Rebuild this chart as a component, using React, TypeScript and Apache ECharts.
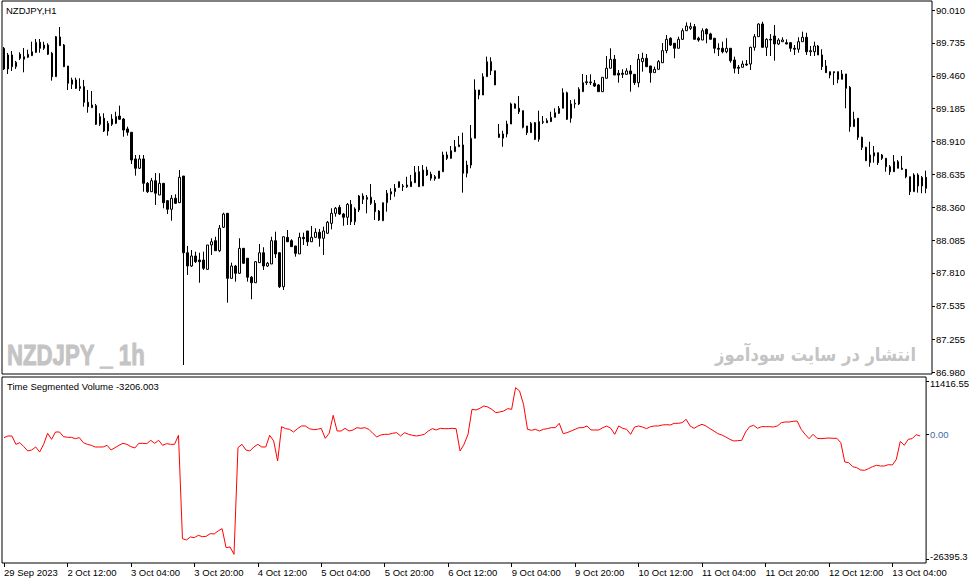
import React, { useEffect, useRef } from 'react';
import * as echarts from 'echarts';

// right scale of the price window
const PRICE_TICKS = [90.01, 89.735, 89.46, 89.185, 88.91, 88.635, 88.36, 88.085, 87.81, 87.535, 87.255, 86.98];
// right scale of the indicator window
const TSV_TICKS = [11416.55, 0, -26395.3];
const TSV_TICK_TEXT = ['11416.55', '0.00', '-26395.3'];
// time labels, one every 16 bars
const TIME_TICKS = [
  '29 Sep 2023', '2 Oct 12:00', '3 Oct 04:00', '3 Oct 20:00', '4 Oct 12:00', '5 Oct 04:00', '5 Oct 20:00',
  '6 Oct 12:00', '9 Oct 04:00', '9 Oct 20:00', '10 Oct 12:00', '11 Oct 04:00', '11 Oct 20:00', '12 Oct 12:00',
  '13 Oct 04:00',
];

// NZDJPY H1 bars
const OPEN = [
  89.690, 89.517, 89.634, 89.536, 89.640, 89.598, 89.615, 89.628, 89.656, 89.740,
  89.690, 89.717, 89.648, 89.452, 89.784, 89.717, 89.542, 89.389, 89.425, 89.369,
  89.369, 89.238, 89.193, 89.210, 89.054, 89.104, 88.998, 89.054, 89.062, 89.123,
  89.098, 89.015, 88.987, 88.764, 88.686, 88.764, 88.560, 88.490, 88.582, 88.462,
  88.560, 88.415, 88.343, 88.435, 88.398, 88.621, 87.979, 87.868, 87.952, 87.918,
  87.918, 87.840, 88.044, 88.080, 87.996, 88.192, 88.309, 87.765, 87.868, 87.807,
  88.016, 87.933, 87.774, 87.728, 87.896, 87.979, 87.868, 87.885, 88.080, 87.979,
  87.695, 88.108, 88.080, 88.036, 87.969, 88.108, 88.161, 88.071, 88.108, 88.150,
  88.100, 88.142, 88.225, 88.309, 88.359, 88.303, 88.276, 88.384, 88.239, 88.337,
  88.454, 88.426, 88.443, 88.393, 88.328, 88.247, 88.398, 88.471, 88.490, 88.527,
  88.538, 88.546, 88.532, 88.565, 88.657, 88.538, 88.671, 88.636, 88.615, 88.602,
  88.657, 88.797, 88.769, 88.825, 88.866, 88.881, 88.644, 88.713, 88.937, 89.341,
  89.299, 89.452, 89.578, 89.502, 88.973, 88.937, 88.973, 89.056, 89.224, 89.188,
  89.168, 89.040, 88.984, 89.067, 88.928, 89.076, 89.084, 89.076, 89.112, 89.146,
  89.188, 89.318, 89.104, 89.224, 89.224, 89.327, 89.402, 89.402, 89.397, 89.383,
  89.327, 89.439, 89.523, 89.598, 89.481, 89.481, 89.472, 89.500, 89.472, 89.402,
  89.578, 89.606, 89.542, 89.486, 89.514, 89.569, 89.670, 89.774, 89.732, 89.690,
  89.765, 89.837, 89.857, 89.871, 89.774, 89.759, 89.849, 89.810, 89.774, 89.690,
  89.690, 89.661, 89.690, 89.592, 89.531, 89.531, 89.558, 89.558, 89.698, 89.787,
  89.893, 89.698, 89.765, 89.793, 89.726, 89.745, 89.737, 89.737, 89.690, 89.682,
  89.745, 89.782, 89.661, 89.661, 89.709, 89.634, 89.542, 89.494, 89.494, 89.494,
  89.430, 89.475, 89.363, 89.034, 89.104, 88.945, 88.861, 88.733, 88.789, 88.816,
  88.797, 88.769, 88.699, 88.657, 88.741, 88.686, 88.677, 88.615, 88.490, 88.630,
  88.538, 88.610,
];
const HIGH = [
  89.701, 89.651, 89.667, 89.584, 89.656, 89.692, 89.678, 89.745, 89.768, 89.768,
  89.745, 89.732, 89.659, 89.793, 89.868, 89.726, 89.542, 89.444, 89.444, 89.439,
  89.425, 89.341, 89.333, 89.224, 89.146, 89.146, 89.082, 89.138, 89.159, 89.210,
  89.107, 89.034, 88.989, 88.797, 88.797, 88.797, 88.571, 88.605, 88.646, 88.644,
  88.563, 88.420, 88.462, 88.468, 88.671, 88.621, 88.036, 88.002, 87.988, 87.979,
  87.988, 88.044, 88.100, 88.113, 88.211, 88.314, 88.312, 87.896, 87.877, 88.100,
  88.019, 87.935, 87.784, 87.910, 88.052, 88.025, 87.902, 88.113, 88.155, 87.985,
  88.113, 88.169, 88.092, 88.036, 88.147, 88.147, 88.161, 88.203, 88.184, 88.178,
  88.197, 88.245, 88.351, 88.362, 88.379, 88.312, 88.395, 88.420, 88.359, 88.462,
  88.477, 88.462, 88.554, 88.420, 88.337, 88.398, 88.504, 88.518, 88.554, 88.574,
  88.554, 88.615, 88.630, 88.705, 88.705, 88.713, 88.699, 88.657, 88.630, 88.663,
  88.825, 88.825, 88.872, 88.923, 88.956, 88.984, 88.749, 89.048, 89.430, 89.341,
  89.481, 89.620, 89.615, 89.502, 89.056, 89.000, 89.084, 89.235, 89.230, 89.291,
  89.168, 89.040, 89.073, 89.073, 89.168, 89.123, 89.104, 89.159, 89.188, 89.207,
  89.355, 89.327, 89.257, 89.263, 89.364, 89.475, 89.466, 89.472, 89.425, 89.391,
  89.447, 89.625, 89.690, 89.634, 89.508, 89.514, 89.523, 89.550, 89.475, 89.642,
  89.653, 89.642, 89.542, 89.536, 89.592, 89.734, 89.801, 89.782, 89.734, 89.787,
  89.857, 89.907, 89.904, 89.893, 89.787, 89.857, 89.857, 89.820, 89.776, 89.732,
  89.745, 89.774, 89.692, 89.620, 89.550, 89.586, 89.592, 89.703, 89.809, 89.899,
  89.912, 89.774, 89.809, 89.885, 89.774, 89.782, 89.765, 89.743, 89.717, 89.782,
  89.829, 89.820, 89.709, 89.745, 89.717, 89.682, 89.592, 89.494, 89.494, 89.494,
  89.508, 89.475, 89.374, 89.159, 89.107, 88.950, 88.866, 88.908, 88.872, 88.816,
  88.805, 88.772, 88.713, 88.797, 88.755, 88.789, 88.680, 88.615, 88.644, 88.644,
  88.621, 88.666,
];
const LOW = [
  89.508, 89.475, 89.500, 89.517, 89.592, 89.489, 89.609, 89.625, 89.651, 89.653,
  89.676, 89.634, 89.419, 89.450, 89.709, 89.533, 89.341, 89.349, 89.349, 89.333,
  89.201, 89.151, 89.190, 89.048, 89.040, 88.989, 88.959, 89.040, 89.056, 89.090,
  88.950, 88.959, 88.722, 88.624, 88.680, 88.490, 88.479, 88.487, 88.379, 88.462,
  88.351, 88.303, 88.247, 88.387, 88.395, 87.040, 87.793, 87.860, 87.893, 87.728,
  87.835, 87.835, 87.960, 87.994, 87.985, 88.186, 87.561, 87.763, 87.737, 87.801,
  87.885, 87.737, 87.590, 87.726, 87.893, 87.835, 87.860, 87.885, 87.935, 87.684,
  87.667, 88.069, 88.027, 87.946, 87.969, 88.044, 88.036, 88.069, 88.102, 88.030,
  87.960, 88.136, 88.175, 88.281, 88.295, 88.205, 88.211, 88.211, 88.211, 88.320,
  88.387, 88.309, 88.379, 88.253, 88.245, 88.245, 88.323, 88.420, 88.448, 88.521,
  88.496, 88.521, 88.529, 88.563, 88.529, 88.538, 88.621, 88.582, 88.582, 88.599,
  88.655, 88.755, 88.764, 88.822, 88.866, 88.482, 88.610, 88.686, 88.937, 89.263,
  89.299, 89.452, 89.466, 89.383, 88.939, 88.866, 88.945, 89.056, 89.188, 89.140,
  89.020, 88.964, 88.981, 88.923, 88.908, 89.056, 89.065, 89.073, 89.112, 89.140,
  89.188, 89.090, 89.067, 89.188, 89.215, 89.324, 89.383, 89.383, 89.366, 89.327,
  89.324, 89.439, 89.523, 89.466, 89.402, 89.441, 89.472, 89.327, 89.383, 89.364,
  89.494, 89.533, 89.402, 89.486, 89.514, 89.567, 89.648, 89.709, 89.606, 89.690,
  89.759, 89.835, 89.843, 89.765, 89.745, 89.759, 89.732, 89.765, 89.648, 89.625,
  89.648, 89.648, 89.569, 89.481, 89.475, 89.531, 89.542, 89.508, 89.670, 89.787,
  89.698, 89.625, 89.625, 89.586, 89.717, 89.743, 89.723, 89.661, 89.634, 89.653,
  89.745, 89.634, 89.625, 89.625, 89.634, 89.508, 89.483, 89.439, 89.383, 89.397,
  89.430, 89.188, 88.992, 89.034, 88.923, 88.839, 88.749, 88.699, 88.733, 88.713,
  88.755, 88.657, 88.630, 88.655, 88.686, 88.671, 88.602, 88.462, 88.490, 88.482,
  88.477, 88.477,
];
const CLOSE = [
  89.517, 89.634, 89.536, 89.573, 89.606, 89.620, 89.640, 89.661, 89.740, 89.690,
  89.717, 89.640, 89.452, 89.787, 89.712, 89.536, 89.397, 89.425, 89.355, 89.355,
  89.238, 89.201, 89.215, 89.054, 89.118, 88.998, 89.062, 89.098, 89.118, 89.096,
  89.006, 88.987, 88.755, 88.686, 88.764, 88.560, 88.490, 88.582, 88.477, 88.560,
  88.398, 88.343, 88.435, 88.393, 88.610, 87.979, 87.868, 87.952, 87.904, 87.904,
  87.849, 88.044, 88.071, 87.996, 88.184, 88.303, 87.765, 87.868, 87.807, 88.016,
  87.891, 87.774, 87.728, 87.904, 87.979, 87.868, 87.891, 88.080, 87.969, 87.695,
  88.113, 88.071, 88.030, 87.974, 88.108, 88.097, 88.071, 88.108, 88.150, 88.100,
  88.161, 88.234, 88.309, 88.351, 88.303, 88.276, 88.384, 88.239, 88.345, 88.454,
  88.426, 88.443, 88.393, 88.323, 88.253, 88.398, 88.477, 88.490, 88.518, 88.574,
  88.532, 88.532, 88.574, 88.652, 88.532, 88.671, 88.630, 88.602, 88.599, 88.663,
  88.797, 88.769, 88.833, 88.866, 88.881, 88.644, 88.713, 88.937, 89.341, 89.299,
  89.452, 89.578, 89.502, 89.383, 88.945, 88.973, 89.056, 89.224, 89.188, 89.159,
  89.029, 88.984, 89.062, 88.928, 89.076, 89.071, 89.067, 89.112, 89.151, 89.188,
  89.318, 89.096, 89.224, 89.230, 89.347, 89.402, 89.410, 89.408, 89.374, 89.327,
  89.447, 89.523, 89.598, 89.466, 89.466, 89.472, 89.500, 89.475, 89.402, 89.598,
  89.606, 89.536, 89.486, 89.514, 89.578, 89.670, 89.765, 89.717, 89.690, 89.765,
  89.837, 89.876, 89.871, 89.765, 89.759, 89.837, 89.810, 89.765, 89.690, 89.682,
  89.661, 89.690, 89.586, 89.523, 89.523, 89.558, 89.550, 89.698, 89.787, 89.893,
  89.698, 89.765, 89.759, 89.726, 89.759, 89.759, 89.726, 89.690, 89.682, 89.745,
  89.782, 89.661, 89.670, 89.709, 89.634, 89.536, 89.486, 89.466, 89.486, 89.430,
  89.475, 89.355, 89.034, 89.096, 88.945, 88.861, 88.749, 88.797, 88.816, 88.733,
  88.769, 88.699, 88.657, 88.741, 88.686, 88.677, 88.615, 88.490, 88.630, 88.538,
  88.610, 88.518,
];
// Time Segmented Volume, one value per bar
const TSV = [
  -620, -266, -266, -2035, -1682, -2531, -3452, -3239, -2602, -3664,
  -2035, 301, -973, 584, 584, -407, -549, -549, -832, -620,
  -1682, -2035, -2248, -2602, -2602, -2602, -2248, -3239, -2744, -2248,
  -1823, -2035, -2531, -2814, -1823, -1823, -1894, -1186, -1823, -1186,
  -2248, -1894, -2035, -2035, -124, -22072, -22355, -21718, -21860, -21364,
  -21647, -21576, -21010, -21081, -20444, -19948, -23984, -23842, -25400, -2744,
  -2035, -3239, -3452, -2602, -2035, -2602, -2602, -124, -1328, -5576,
  1717, 1292, 1151, 584, 1292, 1859, 1859, 1292, 1080, 1151,
  1363, -761, 301, 4124, 797, 797, 1363, 797, 1009, 1504,
  1363, 1504, 1151, 301, -478, -53, 89, 89, 301, 442,
  -266, 442, 89, -124, -266, -124, 89, 797, 1292, 1009,
  1363, 1292, 1292, 1363, 1292, -3452, -2035, 89, 5399, 5257,
  5611, 6107, 5894, 5399, 4691, 4832, 5045, 5540, 5399, 10000,
  9293, 6460, 1151, 938, 1151, 797, 1151, 1292, 1504, 1504,
  2425, 230, 442, 797, 1151, 1504, 1504, 1859, 1009, 1009,
  1009, 1504, 1859, 1363, 89, 1859, 1363, 1151, 89, 1646,
  1859, 1646, 1292, 1717, 1859, 1859, 2071, 2142, 2071, 2425,
  2425, 2566, 3275, 1859, 1363, 1859, 2213, 1859, 1292, 797,
  230, -53, -478, -973, -1328, -1257, -1186, 584, 1717, 2000,
  1363, 1717, 1717, 1717, 1646, 1859, 2566, 2708, 2708, 2850,
  2921, 1151, 89, -832, 89, -761, -832, -761, -690, -761,
  -761, -1682, -5788, -5930, -6779, -6992, -7487, -7558, -7204, -6779,
  -6496, -6638, -6638, -6354, -6425, -5221, -1398, -2248, -973, -832,
  18, -266,
];

const MONTHS = ['Jan', 'Feb', 'Mar', 'Apr', 'May', 'Jun', 'Jul', 'Aug', 'Sep', 'Oct', 'Nov', 'Dec'];
const FONT = '"Liberation Sans", Arial, sans-serif';

// hourly bar times, weekends skipped, plus one empty slot on the right
const buildCategories = () => {
  const cats: string[] = [];
  let t = Date.UTC(2023, 8, 29, 20);
  while (cats.length < OPEN.length) {
    const d = new Date(t);
    const wd = d.getUTCDay();
    if (wd !== 0 && wd !== 6) {
      const hh = String(d.getUTCHours()).padStart(2, '0');
      cats.push(`${d.getUTCDate()} ${MONTHS[d.getUTCMonth()]} ${hh}:00`);
    }
    t += 3600000;
  }
  cats.push('');
  return cats;
};

const App = () => {
  const chartRef = useRef<HTMLDivElement>(null);

  useEffect(() => {
    const myChart = echarts.init(chartRef.current, null, { renderer: 'svg' });
    const cats = buildCategories();
    const candles = OPEN.map((o, i) => [o, CLOSE[i], LOW[i], HIGH[i]]);

    const labelBase = { color: '#000', fontSize: 9.5, fontFamily: FONT };

    const option = {
      animation: false,
      backgroundColor: '#ffffff',
      grid: [
        { left: 2, top: 1, width: 930, height: 373, show: true, borderColor: '#000', borderWidth: 1 },
        { left: 2, top: 377, width: 930, height: 186, show: true, borderColor: '#000', borderWidth: 1 },
      ],
      xAxis: [
        {
          type: 'category', gridIndex: 0, data: cats, boundaryGap: true, position: 'bottom',
          axisLine: { show: false, onZero: false }, axisTick: { show: false }, axisLabel: { show: false },
          splitLine: { show: false },
        },
        {
          type: 'category', gridIndex: 1, data: cats, boundaryGap: true, position: 'bottom',
          axisLine: { show: false, onZero: false },
          axisTick: { show: true, alignWithLabel: true, interval: 15, length: 4, lineStyle: { color: '#000', width: 1 } },
          axisLabel: {
            ...labelBase,
            interval: 15,
            align: 'left',
            margin: 4,
            formatter: (v: string, i: number) => TIME_TICKS[i / 16] ?? '',
          },
          splitLine: { show: false },
        },
      ],
      yAxis: [
        {
          type: 'value', gridIndex: 0, position: 'right', min: 86.9644, max: 90.0856,
          splitLine: { show: false }, axisLine: { show: false },
          axisTick: { show: true, customValues: PRICE_TICKS, length: 3, lineStyle: { color: '#000', width: 1 } },
          axisLabel: { ...labelBase, customValues: PRICE_TICKS, margin: 4, formatter: (v: number) => v.toFixed(3) },
        },
        {
          type: 'value', gridIndex: 1, position: 'right', min: -27245, max: 12266,
          splitLine: { show: false }, axisLine: { show: false },
          axisTick: { show: true, customValues: TSV_TICKS, length: 3, lineStyle: { color: '#000', width: 1 } },
          axisLabel: {
            ...labelBase,
            customValues: TSV_TICKS,
            margin: 4,
            formatter: (v: number) => {
              const k = TSV_TICKS.findIndex((t) => Math.abs(t - v) < 1e-6);
              const key = k === 0 ? 'top' : k === 2 ? 'bot' : 'zero';
              return `{${key}|${TSV_TICK_TEXT[k < 0 ? 1 : k]}}`;
            },
            rich: {
              top: { ...labelBase, padding: [6, 0, 0, 0] },
              bot: { ...labelBase, padding: [0, 0, 6, 0] },
              zero: { ...labelBase, color: '#3e6aa6' },
            },
          },
        },
      ],
      series: [
        {
          type: 'candlestick',
          xAxisIndex: 0,
          yAxisIndex: 0,
          data: candles,
          barWidth: 2,
          itemStyle: {
            color: '#ffffff',
            color0: '#000000',
            borderColor: '#000000',
            borderColor0: '#000000',
            borderWidth: 1,
          },
          z: 3,
        },
        {
          type: 'line',
          xAxisIndex: 1,
          yAxisIndex: 1,
          data: TSV,
          showSymbol: false,
          symbol: 'none',
          lineStyle: { color: '#ff0000', width: 1 },
          z: 3,
        },
      ],
      graphic: [
        {
          type: 'text', x: 6, y: 10, silent: true,
          style: { text: 'NZDJPY,H1', fill: '#000', fontSize: 9.5, fontFamily: FONT, verticalAlign: 'middle' },
        },
        {
          type: 'text', x: 7, y: 386, silent: true,
          style: { text: 'Time Segmented Volume -3206.003', fill: '#000', fontSize: 9.5, fontFamily: FONT, verticalAlign: 'middle' },
        },
        {
          type: 'text', x: 7, y: 355, scaleX: 0.74, silent: true, z: -1,
          style: { text: 'NZDJPY _ 1h', fill: '#c4c4c4', fontSize: 30, fontWeight: 'bold', fontFamily: FONT, verticalAlign: 'middle', stroke: '#c4c4c4', lineWidth: 1 },
        },
        {
          type: 'text', x: 916, y: 355, scaleX: 0.86, silent: true, z: -1,
          style: {
            text: 'انتشار در سایت سودآموز', fill: '#c4c4c4', fontSize: 19, fontWeight: 'bold',
            fontFamily: '"DejaVu Sans", sans-serif', align: 'right', verticalAlign: 'middle',
          },
        },
      ],
    };

    myChart.setOption(option);

    return () => {
      myChart.dispose();
    };
  }, []);

  return (
    <div
      ref={chartRef}
      style={{ position: 'fixed', left: 0, top: 0, width: '972px', height: '584px', background: '#fff' }}
    />
  );
};

export default App;
